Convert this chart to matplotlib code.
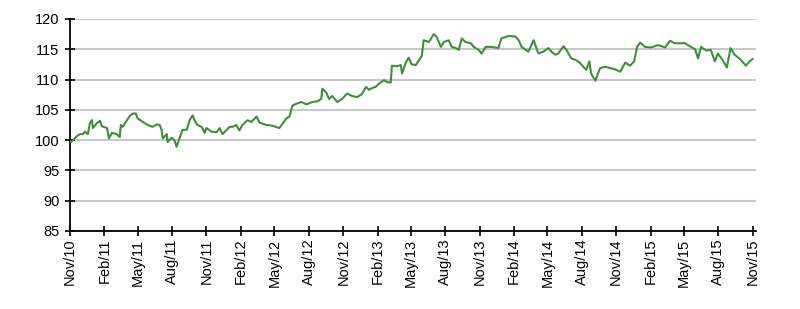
import matplotlib
matplotlib.use("Agg")
import matplotlib.pyplot as plt
import matplotlib.dates as mdates
import pandas as pd
import numpy as np

plt.rcParams['font.family'] = ['Liberation Sans', 'DejaVu Sans']

start_date = "2010-11-01"
# days elapsed since start_date
days = [0, 3, 19, 27, 35, 40, 48, 53, 59, 61, 72, 80, 85, 99, 104, 112, 125, 133, 136, 141, 147,
        160, 168, 176, 181, 195, 208, 221, 232, 240, 245, 248, 259, 261, 272, 280, 285, 293,
        301, 312, 320, 328, 333, 341, 352, 360, 365, 379, 392, 400, 408, 419, 427, 435, 445,
        453, 461, 475, 485, 499, 507, 525, 541, 560, 579, 587, 595, 605, 619, 632, 648, 661,
        672, 675, 685, 693, 701, 715, 728, 741, 754, 768, 781, 792, 800, 808, 818, 826, 840,
        848, 858, 861, 874, 885, 888, 898, 906, 914, 925, 938, 941, 946, 960, 968, 973, 981,
        992, 1000, 1013, 1021, 1032, 1040, 1048, 1058, 1072, 1080, 1093, 1101, 1112, 1128,
        1146, 1154, 1173, 1192, 1200, 1208, 1226, 1240, 1253, 1266, 1280, 1288, 1298, 1306,
        1320, 1328, 1341, 1354, 1365, 1373, 1381, 1389, 1394, 1405, 1418, 1432, 1445, 1458,
        1472, 1485, 1498, 1509, 1517, 1525, 1538, 1554, 1573, 1592, 1605, 1618, 1645, 1658,
        1672, 1680, 1688, 1701, 1714, 1725, 1733, 1746, 1757, 1767, 1778, 1792, 1808, 1818,
        1826]
values = [99.8, 99.7, 100.7, 101.0, 101.0, 101.4, 101.0, 102.8, 103.3, 102.0, 102.8, 103.2, 102.3,
          102.0, 100.3, 101.2, 101.0, 100.5, 102.5, 102.2, 102.8, 104.0, 104.4, 104.4, 103.6,
          103.0, 102.5, 102.2, 102.6, 102.5, 101.7, 100.3, 101.0, 99.7, 100.4, 99.9, 98.9,
          100.3, 101.7, 101.7, 103.3, 104.1, 103.3, 102.5, 102.2, 101.2, 102.0, 101.4, 101.3,
          102.0, 101.0, 101.7, 102.2, 102.2, 102.5, 101.6, 102.5, 103.3, 103.0, 103.9, 102.9,
          102.5, 102.4, 102.0, 103.6, 103.9, 105.7, 106.0, 106.3, 105.9, 106.3, 106.4, 106.8,
          108.5, 107.9, 106.8, 107.3, 106.3, 106.8, 107.7, 107.3, 107.1, 107.6, 108.8, 108.3,
          108.6, 108.8, 109.3, 109.9, 109.6, 109.5, 112.3, 112.2, 112.4, 111.0, 112.8, 113.6,
          112.5, 112.4, 113.6, 113.9, 116.5, 116.2, 117.0, 117.5, 117.0, 115.4, 116.2, 116.5,
          115.4, 115.2, 114.9, 116.8, 116.2, 116.0, 115.4, 114.9, 114.3, 115.4, 115.4, 115.2,
          116.8, 117.2, 117.1, 116.5, 115.4, 114.6, 116.5, 114.3, 114.6, 115.2, 114.6, 114.1,
          114.3, 115.5, 114.9, 113.5, 113.2, 112.7, 112.1, 111.6, 113.0, 111.0, 109.8, 111.9,
          112.1, 111.9, 111.7, 111.3, 112.8, 112.3, 113.0, 115.4, 116.1, 115.4, 115.3, 115.7,
          115.3, 116.4, 116.0, 116.0, 115.5, 115.0, 113.5, 115.4, 114.8, 114.9, 113.0, 114.3,
          113.2, 112.0, 115.2, 114.1, 113.4, 112.3, 113.0, 113.4]

tick_labels = ["Nov/10", "Feb/11", "May/11", "Aug/11", "Nov/11", "Feb/12", "May/12", "Aug/12",
               "Nov/12", "Feb/13", "May/13", "Aug/13", "Nov/13", "Feb/14", "May/14", "Aug/14",
               "Nov/14", "Feb/15", "May/15", "Aug/15", "Nov/15"]
y_ticks = [85, 90, 95, 100, 105, 110, 115, 120]

dates = pd.Timestamp(start_date) + pd.to_timedelta(days, unit="D")
tick_dates = pd.date_range(start_date, periods=len(tick_labels), freq="3MS")

fig = plt.figure(figsize=(8, 3.09), dpi=100)
ax = fig.add_axes([70/800, 1 - 231/309, (756-70)/800, (231-19)/309])

for y in y_ticks:
    ax.axhline(y, color="#c8c8c8", lw=1.5, zorder=0)

ax.plot(dates, values, color="#3f8f3a", lw=1.5, zorder=3)

ax.set_ylim(85, 120)
ax.set_xlim(pd.Timestamp(start_date), pd.Timestamp("2015-11-10"))
ax.set_yticks(y_ticks)
ax.set_yticklabels([str(v) for v in y_ticks], fontsize=10.5)
ax.set_xticks(tick_dates)
ax.set_xticklabels(tick_labels, rotation=90, fontsize=10.5)

for s in ["top", "right"]:
    ax.spines[s].set_visible(False)
for s in ["left", "bottom"]:
    ax.spines[s].set_linewidth(1.3)
    ax.spines[s].set_color("black")
ax.tick_params(direction="inout", length=7, width=1.2, colors="black", pad=2)
ax.tick_params(axis="y", pad=4)

fig.savefig("out.png", dpi=100)
